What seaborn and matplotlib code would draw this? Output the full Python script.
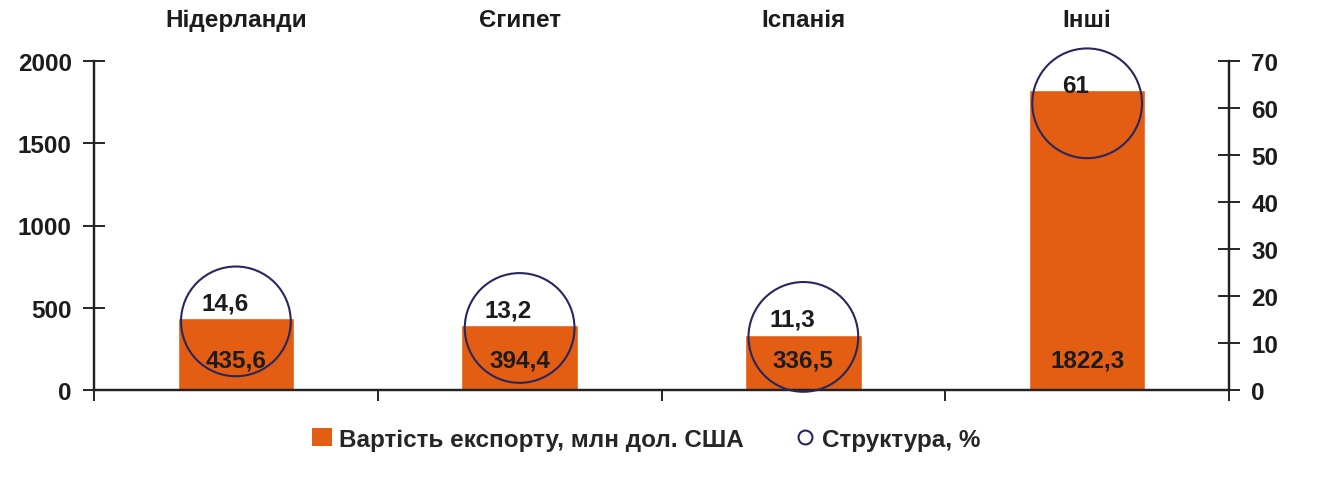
import matplotlib
matplotlib.use("Agg")
import matplotlib.pyplot as plt
import seaborn as sns
import pandas as pd
from matplotlib.patches import Patch
from matplotlib.lines import Line2D

countries = ["Нідерланди", "Єгипет", "Іспанія", "Інші"]
export_value = [435.6, 394.4, 336.5, 1822.3]
share = [14.6, 13.2, 11.3, 61]
value_labels = ["435,6", "394,4", "336,5", "1822,3"]
share_labels = ["14,6", "13,2", "11,3", "61"]

sns.set_style("white")
plt.rcParams["font.family"] = ["Liberation Sans", "DejaVu Sans"]
plt.rcParams["font.weight"] = "bold"

bar_color = "#E35E12"
circle_color = "#28265E"
text_color = "#1c1c1c"

df = pd.DataFrame({"country": countries, "value": export_value, "share": share})

fig, ax = plt.subplots(figsize=(13.19, 4.81), dpi=100)
fig.subplots_adjust(left=94 / 1319, right=1229 / 1319, top=1 - 62 / 481, bottom=1 - 391 / 481)

sns.barplot(data=df, x="country", y="value", color=bar_color, saturation=1,
            width=0.41, ax=ax)
ax.set_ylim(0, 2000)
ax.set_xlim(-0.5, 3.5)
ax.set_yticks([0, 500, 1000, 1500, 2000])
ax.set_xlabel("")
ax.set_ylabel("")

# value labels near the base of the bars
for i, lbl in enumerate(value_labels):
    ax.text(i, 185, lbl, ha="center", va="center", fontsize=17.5,
            fontweight="bold", color=text_color, zorder=5)

ax2 = ax.twinx()
sns.scatterplot(x=list(range(len(countries))), y=share, ax=ax2, marker="o",
                s=79 ** 2, facecolor="none", edgecolor=circle_color,
                linewidth=1.5, zorder=4, legend=False, clip_on=False)
ax2.set_ylim(0, 70)
ax2.set_yticks(range(0, 71, 10))
ax2.set_xlim(-0.5, 3.5)
for i, lbl in enumerate(share_labels):
    ax2.annotate(lbl, (i, share[i]), xytext=(-8, 13), textcoords="offset points",
                 ha="center", va="center", fontsize=17.5, fontweight="bold",
                 color=text_color)

# spines and ticks
for a in (ax, ax2):
    a.spines["top"].set_visible(False)
    for s in ("left", "right", "bottom"):
        a.spines[s].set_color("#222222")
        a.spines[s].set_linewidth(1.6)

ax.tick_params(axis="y", direction="inout", length=16, width=1.4, labelsize=17.5,
               labelcolor=text_color, left=True, pad=8)
ax2.tick_params(axis="y", direction="inout", length=16, width=1.4, labelsize=17.5,
                labelcolor=text_color, right=True, pad=8)

ax.set_xticks([-0.5, 0.5, 1.5, 2.5, 3.5], minor=True)
ax.tick_params(axis="x", which="minor", bottom=True, direction="out", length=8,
               width=1.4)
ax.tick_params(axis="x", which="major", bottom=False, top=False,
               labelbottom=False, labeltop=True, labelsize=17.5,
               labelcolor=text_color, pad=18)

handles = [
    Patch(facecolor=bar_color, edgecolor="none"),
    Line2D([], [], marker="o", linestyle="none", markersize=10,
           markerfacecolor="none", markeredgecolor=circle_color, markeredgewidth=1.5),
]
fig.legend(handles, ["Вартість експорту, млн дол. США", "Структура, %"],
           loc="center", bbox_to_anchor=(0.49, 1 - 440 / 481), ncol=2,
           frameon=False, handlelength=0.8, handletextpad=0.3,
           columnspacing=2.1, prop={"weight": "bold", "size": 17.5})

fig.savefig("out.png", dpi=100)
